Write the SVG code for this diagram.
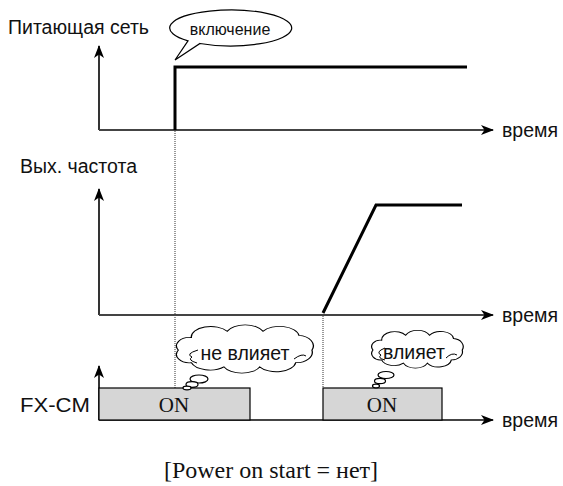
<svg xmlns="http://www.w3.org/2000/svg" width="563" height="486" viewBox="0 0 563 486">
<style>
.lbl{font-family:"Liberation Sans",Arial,sans-serif;font-size:19.5px;fill:#111}
.sm{font-family:"Liberation Sans",Arial,sans-serif;font-size:16px;fill:#111}
.ser{font-family:"Liberation Serif","Times New Roman",serif;fill:#111}
.axis{stroke:#444;stroke-width:2;fill:none}
.yaxis{stroke:#000;stroke-width:1.6;fill:none}
.sig{stroke:#000;stroke-width:3;fill:none}
.dot{stroke:#333;stroke-width:1;stroke-dasharray:1 1;fill:none}
.cloud{fill:#fff;stroke:#000;stroke-width:1.2}
.curl{fill:none;stroke:#000;stroke-width:1}
.box{fill:#d6d6d6;stroke:#000;stroke-width:1.2}
</style>
<defs>
<marker id="ah" viewBox="0 0 13 10" refX="12" refY="5" markerWidth="13" markerHeight="10" markerUnits="userSpaceOnUse" orient="auto">
<path d="M0,0 L13,5 L0,10 L3.5,5 Z" fill="#000"/>
</marker>
<path id="cl" d="M10 22 a8 8 0 0 1 8 -12 a12 10 0 0 1 22 -6 a12 10 0 0 1 22 0 a12 10 0 0 1 22 4 a10 10 0 0 1 8 14 a10 10 0 0 1 -10 12 a12 10 0 0 1 -22 4 a12 10 0 0 1 -22 0 a12 10 0 0 1 -20 -4 a8 8 0 0 1 -8 -12 Z"/>
</defs>
<g id="connectors">
<line class="dot" x1="175" y1="131" x2="175" y2="388"/>
<line class="dot" x1="323" y1="316" x2="323" y2="388"/>
<line class="yaxis" x1="99" y1="130" x2="99" y2="46" marker-end="url(#ah)"/>
<line class="axis" x1="99" y1="130" x2="493" y2="130" marker-end="url(#ah)"/>
<line class="yaxis" x1="99" y1="315" x2="99" y2="189" marker-end="url(#ah)"/>
<line class="axis" x1="99" y1="315" x2="493" y2="315" marker-end="url(#ah)"/>
<line class="yaxis" x1="99" y1="420" x2="99" y2="366" marker-end="url(#ah)"/>
<line class="axis" x1="99" y1="420" x2="493" y2="420" marker-end="url(#ah)"/>
<polyline class="sig" points="175,130 175,67 467,67"/>
<polyline class="sig" points="323,313 376,205 462,205"/>
</g>
<g id="labels">
<text class="lbl" x="8" y="34">Питающая сеть</text>
<text class="lbl" x="20" y="173">Вых. частота</text>
<text class="lbl" x="20" y="412" textLength="70" lengthAdjust="spacingAndGlyphs">FX-CM</text>
<text class="lbl" x="502" y="137">время</text>
<text class="lbl" x="502" y="322">время</text>
<text class="lbl" x="502" y="427">время</text>
</g>
<g id="bubble">
<path d="M188 40.8 L175 60 L200 43.5 A61 18 0 1 0 188 40.8 Z" fill="#fff" stroke="#000" stroke-width="1.2"/>
<text class="sm" x="230" y="35" text-anchor="middle">включение</text>
</g>
<g id="on1">
<rect class="box" x="99" y="388" width="151" height="32"/>
<text class="ser" x="174" y="412" font-size="21" text-anchor="middle">ON</text>
</g>
<g id="on2">
<rect class="box" x="323" y="388" width="119" height="32"/>
<text class="ser" x="382" y="412" font-size="21" text-anchor="middle">ON</text>
</g>
<g id="cloud1">
<use href="#cl" class="cloud" transform="translate(162,327) scale(1.63,1.05)" vector-effect="non-scaling-stroke" style="stroke-width:0.8"/>
<path class="curl" d="M198 350 Q185 354 192 357 Q187 360 197 363"/>
<path class="curl" d="M294 359 Q302 353 306 356"/>
<ellipse class="cloud" cx="199" cy="379" rx="9" ry="4"/>
<ellipse class="cloud" cx="192" cy="384.5" rx="6" ry="2.8"/>
<ellipse class="cloud" cx="187" cy="388" rx="4" ry="1.8"/>
<text class="lbl" x="245" y="360" text-anchor="middle">не влияет</text>
</g>
<g id="cloud2">
<use href="#cl" class="cloud" transform="translate(362,332) scale(1.09,0.82)" vector-effect="non-scaling-stroke" style="stroke-width:1.1"/>
<path class="curl" d="M385 348 Q375 352 381 355 Q377 358 385 360"/>
<path class="curl" d="M446 358 Q452 352 457 355"/>
<ellipse class="cloud" cx="386" cy="375" rx="8" ry="3.5"/>
<ellipse class="cloud" cx="380" cy="381" rx="5.5" ry="2.6"/>
<ellipse class="cloud" cx="376" cy="386" rx="3.5" ry="1.8"/>
<text class="lbl" x="414" y="359" text-anchor="middle" font-size="18">влияет</text>
</g>
<text class="ser" x="271" y="478" font-size="24" text-anchor="middle">[Power on start = нет]</text>
</svg>
